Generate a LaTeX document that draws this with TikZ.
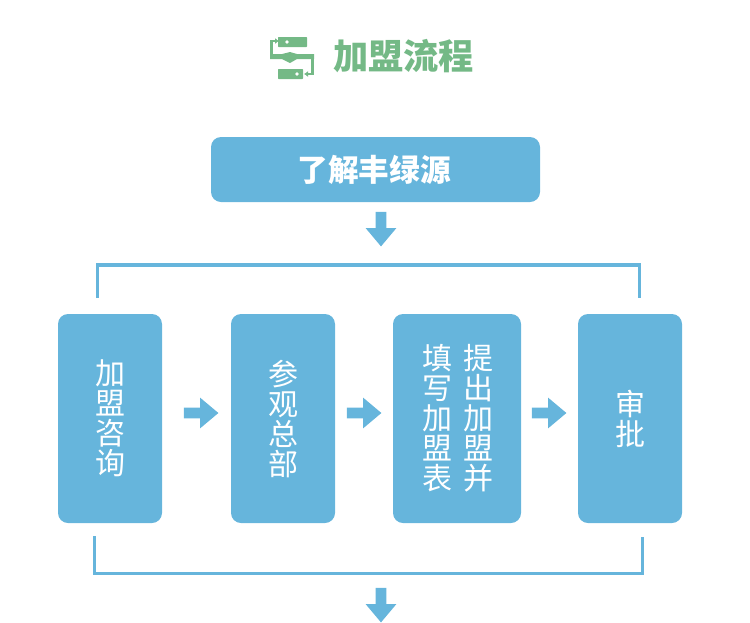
\documentclass[tikz,border=0pt]{standalone}
\usepackage{fontspec}
\usetikzlibrary{shapes.arrows,arrows.meta}
\newfontfamily\cjk{Noto Sans CJK SC}
\definecolor{boxblue}{HTML}{66B5DC}
\definecolor{titlegreen}{HTML}{74B986}
\tikzset{
  stepbox/.style={fill=boxblue,rounded corners=7.5pt,inner sep=0pt,text=white,align=center,
    font=\cjk\fontsize{22.5}{22.5}\selectfont},
  blockarrow/.style={single arrow,fill=boxblue,inner xsep=0pt,inner ysep=3.75pt,minimum width=22.5pt,minimum height=25.9pt,
    single arrow head extend=7.5pt,single arrow tip angle=80},
  bracket/.style={draw=boxblue,line width=2.3pt},
  iconline/.style={draw=titlegreen,line width=2pt},
}
\begin{document}
\begin{tikzpicture}[x=.75pt,y=-.75pt]
      \useasboundingbox (0,0) rectangle (750,622);

      \fill[titlegreen,rounded corners=.5pt] (278,37) rectangle (307,47);
      \fill[titlegreen,rounded corners=.5pt] (278,69) rectangle (303,79);
      \fill[white] (287,42) circle (1.8);
      \fill[white] (297,74) circle (1.8);
      \fill[titlegreen] (270,54) -- (282,54) -- (290,52) -- (297,54) -- (314,54) -- (314,59) -- (297,59) -- (290,63) -- (282,59) -- (270,59) -- cycle;
      \draw[iconline,-{Latex[length=3pt,width=4.5pt]}] (271.5,56) -- (271.5,41) -- (279,41);
      \draw[iconline,-{Latex[length=3pt,width=4.5pt]}] (312.5,56) -- (312.5,74) -- (304,74);

      \node[text=titlegreen,font=\cjk\bfseries\fontsize{26.4}{26.4}\selectfont] (title) at (403.5,56) {加盟流程};

      \begin{scope}[every node/.style={stepbox}]
        \node[minimum width=246.75pt,minimum height=48.75pt,font=\cjk\bfseries\fontsize{23}{23}\selectfont] (intro) at (375.5,169.5) {\hspace{-2pt}了解丰绿源};
        \node[minimum width=78pt,minimum height=156.75pt]  (consult) at (110,418.5) {加\\盟\\咨\\询};
        \node[minimum width=78pt,minimum height=156.75pt]  (visit)   at (283,418.5) {参\\观\\总\\部};
        \node[minimum width=96pt,minimum height=156.75pt]  (form)    at (457,418.5) {\hspace{1.5pt}填\hspace{8pt}提\\\hspace{1.5pt}写\hspace{8pt}出\\\hspace{1.5pt}加\hspace{8pt}加\\\hspace{1.5pt}盟\hspace{8pt}盟\\\hspace{1.5pt}表\hspace{8pt}并};
        \node[minimum width=78pt,minimum height=156.75pt]  (approve) at (630,418.5) {审\\批};
      \end{scope}

      \begin{scope}[every node/.style={blockarrow}]
        \node[rotate=-90] (down1) at (381,226) {};
        \node (next1) at (198,413) {};
        \node (next2) at (361,413) {};
        \node (next3) at (546,413) {};
        \node[rotate=-90] (down2) at (381,602) {};
      \end{scope}

      \coordinate (topleft)  at (97.5,298);
      \coordinate (topright) at (639.5,298);
      \coordinate (botleft)  at (94.5,536);
      \coordinate (botright) at (642.5,537);

      \draw[bracket] (topleft) -- (97.5,265) -- (639.5,265) -- (topright);
      \draw[bracket] (botleft) -- (94.5,573.3) -- (642.5,573.3) -- (botright);

    \end{tikzpicture}
\end{document}
